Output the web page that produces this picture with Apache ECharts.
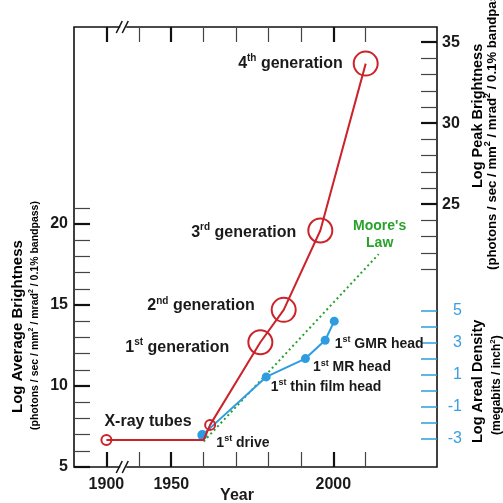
<!DOCTYPE html>
<html><head><meta charset="utf-8">
<script src="https://cdn.jsdelivr.net/npm/echarts@6/dist/echarts.min.js"></script>
<style>html,body{margin:0;padding:0;background:#fff}#c{width:503px;height:503px}</style>
</head><body><div id="c"></div>
<script>
// ---------------- DATA ----------------
const xTickYears = [1900, 1940, 1950, 1960, 1970, 1980, 1990, 2000, 2010];
const xMajorYears = [1900, 1950, 2000];

const redYears = [1900, 1960, 1962, 1977.5, 1984.7, 1996, 2010];
const redBrightness = [6.67, 6.67, 7.6, 12.7, 14.7, 19.6, 29.9];
const redNames = ['X-ray tubes', '', '', '1st generation', '2nd generation', '3rd generation', '4th generation'];

const blueYears = [1959.6, 1979.3, 1991.4, 1997.5, 2000.3];
const blueDensity = [-2.8, 0.85, 2.0, 3.15, 4.35];
const blueNames = ['1st drive', '1st thin film head', '1st MR head', '1st GMR head', ''];

const mooreYears = [1960, 2014];
const mooreDensity = [-3.2, 8.55];
const mooreName = "Moore's\nLaw";

const leftTicks = [5, 6, 7, 8, 9, 10, 11, 12, 13, 14, 15, 16, 17, 18, 19, 20, 21];
const leftLabels = [5, 10, 15, 20];
const rightTicks = [21, 22, 23, 24, 25, 26, 27, 28, 29, 30, 31, 32, 33, 34, 35];
const rightLabels = [25, 30, 35];
const blueTicks = [-3, -2, -1, 0, 1, 2, 3, 4, 5];
const blueLabels = [-3, -1, 1, 3, 5];

// ---------------- STYLE ----------------
const FONT = 'Liberation Sans, Arial, Helvetica, sans-serif';
const RED = '#cc2229', BLUE = '#2e9de0', BLUE_TXT = '#3a9fe0', GREEN = '#27a22b', INK = '#1a1a1a';
// broken x axis: years before the break are drawn 30 years to the right
const BREAK_BEFORE = 1925, BREAK_SHIFT = 30, BREAK_MARK = 1935.5;
const plotX = y => (y < BREAK_BEFORE ? y + BREAK_SHIFT : y);
const realX = v => (v < BREAK_MARK ? v - BREAK_SHIFT : v);

const X_MIN = 1920, X_MAX = 2032;
const L_MIN = 5, L_MAX = 32.16;
const R_MIN = 8.78, R_MAX = 35.94;
const B_MIN = -4.8, B_MAX = 22.8;

const minor = (arr, major) => arr.filter(v => major.indexOf(v) < 0);
function supFmt(s, big, small) {
  const m = s.match(/^(\d)(st|nd|rd|th)(.*)$/);
  return m ? '{' + big + '|' + m[1] + '}{' + small + '|' + m[2] + '}{' + big + '|' + m[3] + '}' : '{' + big + '|' + s + '}';
}

const rich = {
  n: {fontSize: 16, fontWeight: 'bold', color: INK, fontFamily: FONT, lineHeight: 20},
  s: {fontSize: 10, fontWeight: 'bold', color: INK, fontFamily: FONT, verticalAlign: 'top', lineHeight: 12},
  m: {fontSize: 14, fontWeight: 'bold', color: INK, fontFamily: FONT, lineHeight: 18},
  ms: {fontSize: 9, fontWeight: 'bold', color: INK, fontFamily: FONT, verticalAlign: 'top', lineHeight: 11}
};

const redSizes = [10, 0, 10, 24, 24, 24, 24];
const redLabelCfg = {
  0: {position: 'right', offset: [-13, -18]},
  3: {position: 'left', offset: [-13, 5]},
  4: {position: 'left', offset: [-11, -4]},
  5: {position: 'left', offset: [-6, 2]},
  6: {position: 'left', offset: [-5, 0]}
};
const blueSizes = [10, 9, 9, 9, 9];
const blueLabelCfg = {
  0: {position: 'right', offset: [4, 8]},
  1: {position: 'right', offset: [-5, 10]},
  2: {position: 'right', offset: [-2, 9]},
  3: {position: 'right', offset: [0, 4]}
};

function xAxisCfg(pos, ticks, width, color, labels) {
  return {
    type: 'value', position: pos, min: X_MIN, max: X_MAX, gridIndex: 0,
    axisLine: {show: false, onZero: false}, splitLine: {show: false},
    axisTick: {show: true, inside: true, length: 15, customValues: ticks.map(plotX),
      lineStyle: {color: color, width: width}},
    axisLabel: labels ? {show: true, customValues: labels.map(plotX), margin: 10,
      formatter: v => String(realX(v)), fontSize: 16, fontWeight: 'bold', color: INK, fontFamily: FONT}
      : {show: false}
  };
}
function yAxisCfg(pos, min, max, ticks, width, color, labels, lblStyle) {
  return {
    type: 'value', position: pos, min: min, max: max, gridIndex: 0,
    axisLine: {show: false, onZero: false}, splitLine: {show: false},
    axisTick: {show: true, inside: true, length: 16, customValues: ticks,
      lineStyle: {color: color, width: width}},
    axisLabel: labels ? Object.assign({show: true, customValues: labels, fontFamily: FONT}, lblStyle) : {show: false}
  };
}

const chart = echarts.init(document.getElementById('c'), null, {renderer: 'canvas'});

const option = {
  animation: false,
  backgroundColor: '#fff',
  grid: {left: 74, right: 66, top: 27, bottom: 36, show: true, borderColor: '#111', borderWidth: 1.6,
    backgroundColor: 'transparent', containLabel: false, outerBoundsMode: 'none'},
  xAxis: [
    Object.assign(xAxisCfg('bottom', minor(xTickYears, xMajorYears), 1.2, '#444', xMajorYears), {
      name: 'Year', nameLocation: 'middle', nameGap: 21, nameMoveOverlap: false,
      nameTextStyle: {fontSize: 16, fontWeight: 'bold', color: INK, fontFamily: FONT, padding: [0, 37, 0, 0]}
    }),
    xAxisCfg('bottom', xMajorYears, 2.2, '#111', null),
    xAxisCfg('top', minor(xTickYears, xMajorYears), 1.2, '#444', null),
    xAxisCfg('top', xMajorYears, 2.2, '#111', null)
  ],
  yAxis: [
    yAxisCfg('left', L_MIN, L_MAX, minor(leftTicks, leftLabels), 1.2, '#444', leftLabels,
      {margin: 6, fontSize: 16, fontWeight: 'bold', color: INK}),
    yAxisCfg('left', L_MIN, L_MAX, leftLabels, 2.2, '#111', null),
    yAxisCfg('right', R_MIN, R_MAX, minor(rightTicks, rightLabels), 1.2, '#444', rightLabels,
      {margin: 5, fontSize: 16, fontWeight: 'bold', color: INK}),
    yAxisCfg('right', R_MIN, R_MAX, rightLabels, 2.2, '#111', null),
    yAxisCfg('right', B_MIN, B_MAX, blueTicks, 1.5, BLUE, blueLabels,
      {margin: 25, align: 'right', fontSize: 16, fontWeight: 'normal', color: BLUE_TXT})
  ],
  series: [
    {
      name: "Moore's Law", type: 'line', xAxisIndex: 0, yAxisIndex: 4, z: 2,
      lineStyle: {color: GREEN, width: 2, type: [2, 3]},
      symbol: 'circle', symbolSize: 0.1, itemStyle: {color: GREEN},
      data: mooreYears.map((y, i) => ({
        value: [plotX(y), mooreDensity[i]],
        label: i === mooreYears.length - 1 ? {
          show: true, position: 'inside', offset: [1, -20], formatter: mooreName, align: 'center',
          fontSize: 14, fontWeight: 'bold', color: GREEN, fontFamily: FONT, lineHeight: 17
        } : {show: false}
      }))
    },
    {
      name: 'Areal density', type: 'line', xAxisIndex: 0, yAxisIndex: 4, z: 3,
      lineStyle: {color: BLUE, width: 2},
      symbol: 'circle', itemStyle: {color: BLUE, borderWidth: 0},
      data: blueYears.map((y, i) => ({
        value: [plotX(y), blueDensity[i]],
        symbolSize: blueSizes[i],
        label: blueNames[i] ? Object.assign({show: true, formatter: supFmt(blueNames[i], 'm', 'ms'), rich: rich}, blueLabelCfg[i]) : {show: false}
      }))
    },
    {
      name: 'Average brightness', type: 'line', xAxisIndex: 0, yAxisIndex: 0, z: 4,
      lineStyle: {color: RED, width: 2},
      symbol: 'circle',
      itemStyle: {color: 'transparent', borderColor: RED, borderWidth: 2},
      data: redYears.map((y, i) => ({
        value: [plotX(y), redBrightness[i]],
        symbolSize: redSizes[i],
        symbol: redSizes[i] ? 'circle' : 'none',
        label: redNames[i] ? Object.assign({show: true, formatter: supFmt(redNames[i], 'n', 's'), rich: rich}, redLabelCfg[i]) : {show: false}
      }))
    }
  ]
};
chart.setOption(option);

// ---- axis titles and break marks ----
const bx = chart.convertToPixel({xAxisIndex: 0}, BREAK_MARK);
const yBot = chart.convertToPixel({yAxisIndex: 0}, L_MIN);
const yTop = chart.convertToPixel({yAxisIndex: 0}, L_MAX);

function breakMark(y) {
  return [
    {type: 'rect', z: 100, shape: {x: bx - 4, y: y - 3, width: 6, height: 6}, style: {fill: '#fff'}},
    {type: 'line', z: 101, shape: {x1: bx - 8, y1: y + 6, x2: bx - 2, y2: y - 6}, style: {stroke: '#111', lineWidth: 1.5}},
    {type: 'line', z: 101, shape: {x1: bx - 2, y1: y + 6, x2: bx + 4, y2: y - 6}, style: {stroke: '#111', lineWidth: 1.5}}
  ];
}
const titleRich = (size, subSize, color) => ({
  t: {fontSize: size, fontWeight: 'bold', color: color, fontFamily: FONT},
  p: {fontSize: subSize, fontWeight: 'bold', color: color, fontFamily: FONT, lineHeight: subSize + 5},
  q: {fontSize: Math.round(subSize * 0.65), fontWeight: 'bold', color: color, fontFamily: FONT, verticalAlign: 'top', lineHeight: subSize + 5}
});
function vtext(x, y, text, richObj) {
  return {type: 'text', z: 100, x: x, y: y, rotation: Math.PI / 2,
    style: {text: text, rich: richObj, align: 'left', verticalAlign: 'middle'}};
}
const subText = '{p|(photons / sec / mm}{q|2}{p| / mrad}{q|2}{p| / 0.1% bandpass)}';
chart.setOption({
  graphic: [].concat(
    breakMark(yBot), breakMark(yTop),
    vtext(18, 413, '{t|Log Average Brightness}', titleRich(15, 10.5, INK)),
    vtext(35, 430, subText, titleRich(15, 10.5, INK)),
    vtext(478, 188, '{t|Log Peak Brightness}', titleRich(14.5, 13.2, INK)),
    vtext(492, 270, subText, titleRich(14.5, 13.2, INK)),
    vtext(478, 443, '{t|Log Areal Density}', titleRich(14.5, 12, BLUE_TXT)),
    vtext(497, 435, '{p|(megabits / inch}{q|2}{p|)}', titleRich(14.5, 12, BLUE_TXT))
  )
});
</script>
</body></html>
